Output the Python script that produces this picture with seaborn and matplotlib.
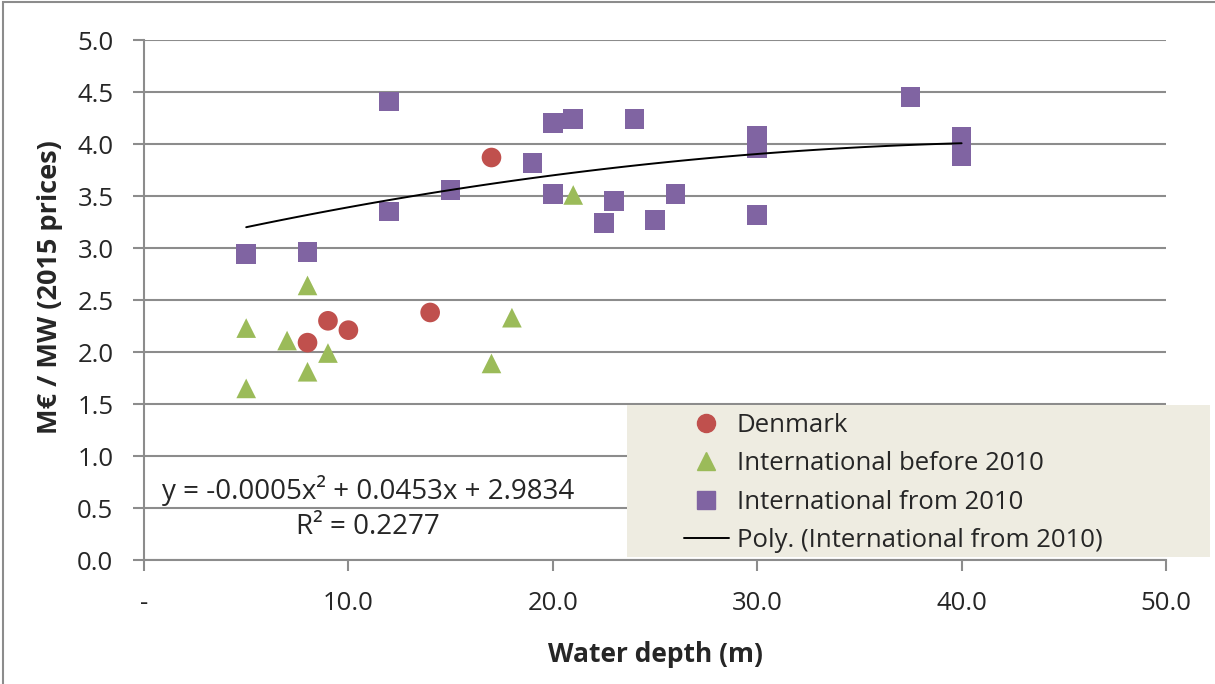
import numpy as np
import pandas as pd
import matplotlib
matplotlib.use("Agg")
import matplotlib.pyplot as plt
from matplotlib.patches import Rectangle
from matplotlib.lines import Line2D
import seaborn as sns

# datos
dk_depth = [8, 9, 10, 14, 17]
dk_cost = [2.09, 2.30, 2.21, 2.38, 3.87]

pre_depth = [5, 5, 7, 8, 8, 9, 17, 18, 21]
pre_cost = [2.23, 1.65, 2.11, 2.64, 1.81, 1.99, 1.89, 2.33, 3.51]

post_depth = [5, 8, 12, 12, 15, 19, 20, 20, 21, 22.5, 23, 24, 25, 26,
              30, 30, 30, 37.5, 40, 40]
post_cost = [2.94, 2.96, 4.41, 3.35, 3.56, 3.82, 4.20, 3.52, 4.24, 3.24,
             3.45, 4.24, 3.27, 3.52, 4.08, 3.96, 3.32, 4.45, 4.07, 3.88]

grupos = ["Denmark", "International before 2010", "International from 2010"]
colores = ["#C0504D", "#9BBB59", "#8064A2"]
marcadores = ["o", "^", "s"]

x_ticks = [0, 10, 20, 30, 40, 50]
x_labels = ["-", "10.0", "20.0", "30.0", "40.0", "50.0"]
y_ticks = np.arange(0, 5.01, 0.5)

ecuacion = "y = -0.0005x² + 0.0453x + 2.9834\nR² = 0.2277"

df = pd.DataFrame({
    "depth": dk_depth + pre_depth + post_depth,
    "cost": dk_cost + pre_cost + post_cost,
    "grupo": [grupos[0]] * len(dk_depth) + [grupos[1]] * len(pre_depth)
             + [grupos[2]] * len(post_depth),
})

sns.set_style("white")
plt.rcParams["font.family"] = ["Open Sans", "DejaVu Sans"]

gris = "#8C8C8C"
fs = 18.5
fig = plt.figure(figsize=(12.15, 6.84), dpi=100)
ax = fig.add_axes([144 / 1215, 1 - 560 / 684, 1022 / 1215, 520 / 684])

ax.yaxis.grid(True, color=gris, linewidth=1.5)
ax.set_axisbelow(True)

sns.scatterplot(data=df, x="depth", y="cost", hue="grupo", style="grupo",
                hue_order=grupos, style_order=grupos,
                palette=dict(zip(grupos, colores)),
                markers=dict(zip(grupos, marcadores)),
                s=200, linewidth=0, legend=False, ax=ax, zorder=3)

sns.regplot(x=post_depth, y=post_cost, order=2, ci=None, scatter=False,
            truncate=True, color="black", line_kws={"linewidth": 1.4, "zorder": 4},
            ax=ax)

ax.set_xlim(0, 50)
ax.set_ylim(0, 5)
ax.set_xticks(x_ticks)
ax.set_xticklabels(x_labels)
ax.set_yticks(y_ticks)
ax.set_yticklabels([f"{v:.1f}" for v in y_ticks])

for s in ["top", "right"]:
    ax.spines[s].set_visible(False)
for s in ["left", "bottom"]:
    ax.spines[s].set_color(gris)
    ax.spines[s].set_linewidth(1.5)

ax.tick_params(axis="both", direction="out", length=8, width=1.5, color=gris,
               labelsize=fs, pad=14)
ax.tick_params(axis="y", left=True)
ax.tick_params(axis="x", bottom=True)

ax.set_xlabel("Water depth (m)", fontsize=19, fontweight="bold", labelpad=18)
ax.set_ylabel("M€ / MW (2015 prices)", fontsize=19.5, fontweight="bold")
ax.yaxis.set_label_coords(-0.079, 0.525)

ax.text(0.219, 0.1, ecuacion, transform=ax.transAxes, ha="center", va="center",
        fontsize=20, multialignment="center", linespacing=1.3)

# caja de la leyenda
fig.patches.append(Rectangle((627 / 1215, 1 - 557 / 684), 583 / 1215, 152 / 684,
                             transform=fig.transFigure, facecolor="#EEECE1",
                             edgecolor="none", zorder=1))

handles = [Line2D([], [], marker=m, color=c, linestyle="none", markersize=13)
           for m, c in zip(marcadores, colores)]
handles.append(Line2D([], [], color="black", linewidth=1.4))
etiquetas = grupos + ["Poly. (International from 2010)"]
fig.legend(handles, etiquetas, loc="upper left",
           bbox_to_anchor=(684 / 1215, 1 - 413 / 684), frameon=False,
           fontsize=fs, borderpad=0, borderaxespad=0, handlelength=1.75,
           handletextpad=0.3, labelspacing=0.52)

# borde exterior
fig.patches.append(Rectangle((3 / 1215, -0.05), 1.2, 1.05 - 2 / 684,
                             transform=fig.transFigure, facecolor="none",
                             edgecolor=gris, linewidth=1.5, zorder=0))

fig.savefig("out.png", dpi=100)
